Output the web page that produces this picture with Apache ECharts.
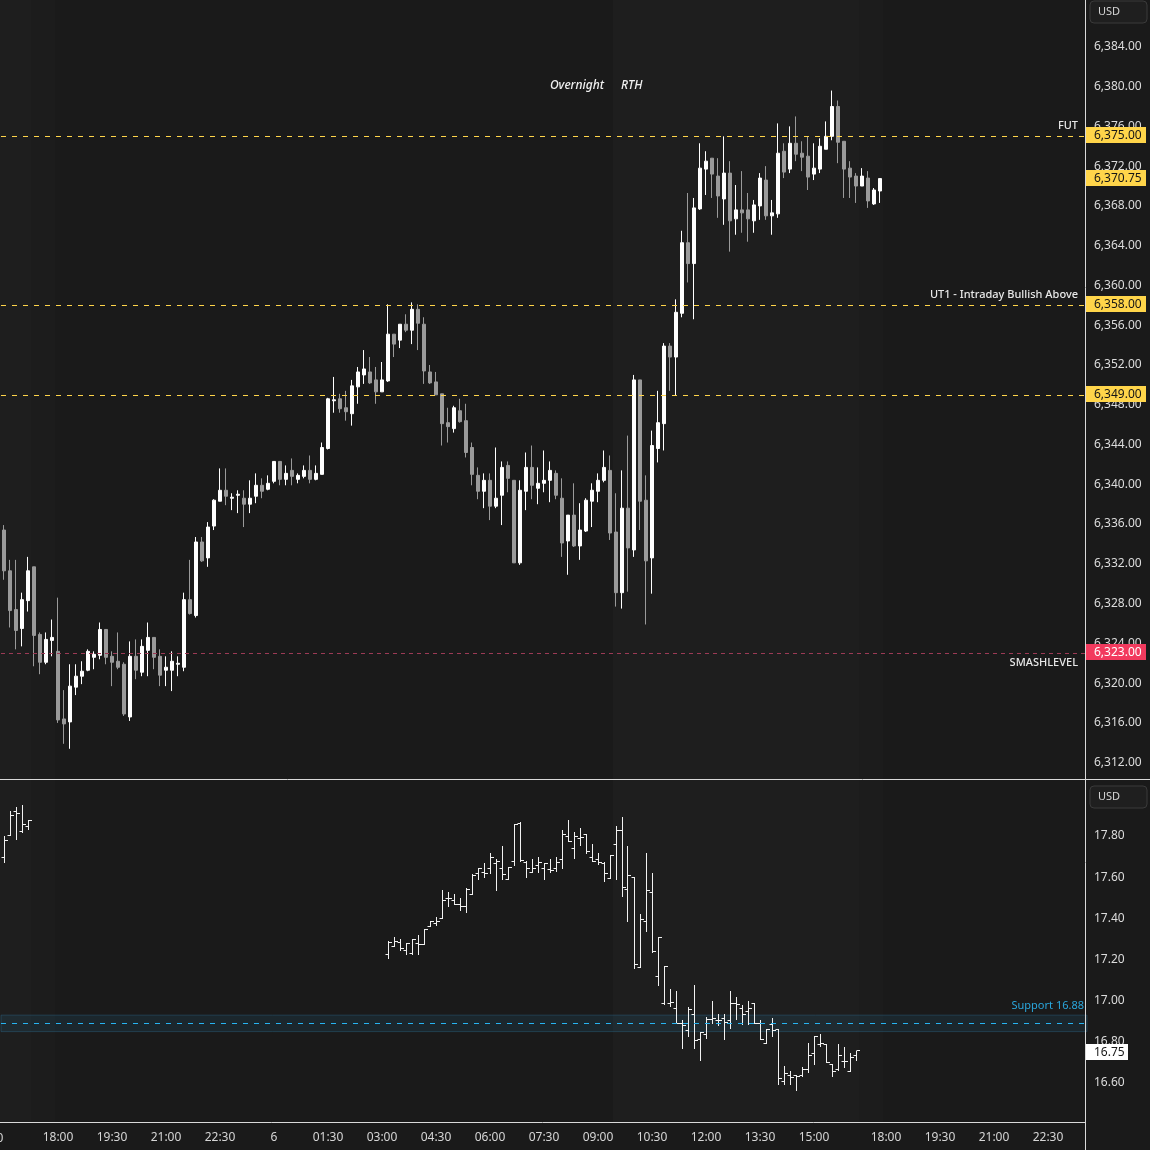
<!DOCTYPE html>
<html><head><meta charset="utf-8">
<script src="https://cdn.jsdelivr.net/npm/echarts@6/dist/echarts.min.js"></script>
<style>html,body{margin:0;padding:0;background:#1a1a1a;}#c{width:1150px;height:1150px;}</style>
</head><body><div id="c"></div>
<script>
// ---------- DATA ----------
// ES 10-minute candles, slot index 0 = 15:30 previous day
const esOpen=[6335.4,6331.3,6327.4,6325.5,6328.3,6331.7,6324.9,6322.1,6324.3,6323.2,6316.4,6316.1,6319.6,6320.7,6321.3,6322.6,6322.8,6325.4,6322.7,6322.2,6321.9,6316.6,6322.7,6321.1,6323.3,6324.6,6322.7,6321.3,6321.3,6321.9,6321.6,6328.4,6326.8,6334.2,6332.6,6335.8,6338.3,6339.4,6338.6,6338.9,6338.6,6338.0,6338.8,6339.9,6339.5,6340.3,6342.3,6340.5,6341.4,6340.5,6340.8,6341.4,6340.5,6341.0,6343.6,6348.4,6348.6,6347.7,6347.1,6349.8,6351.0,6351.3,6350.5,6349.3,6350.4,6355.1,6354.5,6356.1,6355.5,6357.6,6356.1,6351.3,6350.3,6349.1,6346.2,6345.6,6347.4,6346.4,6343.7,6340.9,6339.3,6340.4,6337.8,6338.9,6341.9,6340.4,6332.1,6339.3,6341.7,6339.6,6340.1,6340.4,6341.1,6338.6,6334.3,6336.9,6333.8,6335.3,6338.3,6339.3,6340.4,6341.4,6335.2,6329.1,6337.6,6333.4,6350.5,6338.4,6332.6,6343.6,6346.1,6353.9,6352.8,6357.2,6364.3,6362.2,6367.7,6371.7,6372.8,6371.0,6368.7,6371.3,6366.7,6367.6,6367.6,6366.5,6368.0,6370.6,6367.0,6367.2,6373.5,6371.7,6374.3,6373.3,6373.0,6371.2,6371.7,6373.7,6375.0,6378.0,6374.5,6371.8,6371.0,6370.0,6370.8,6368.2,6369.5];
const esClose=[6331.3,6327.3,6325.3,6328.4,6331.3,6324.8,6322.1,6324.4,6324.6,6316.3,6315.9,6319.7,6320.7,6321.2,6323.2,6322.9,6325.4,6322.6,6322.1,6321.6,6316.9,6322.7,6321.3,6323.7,6324.6,6322.6,6320.8,6321.6,6322.2,6322.0,6328.4,6327.0,6334.2,6332.3,6335.7,6338.4,6339.4,6338.8,6338.7,6339.0,6338.0,6338.6,6339.9,6339.3,6340.1,6342.3,6340.5,6341.1,6340.8,6340.9,6341.4,6340.5,6341.1,6343.7,6348.6,6348.5,6347.6,6347.3,6349.9,6351.3,6351.6,6350.2,6349.3,6350.5,6355.1,6354.1,6356.1,6355.5,6357.6,6356.2,6351.4,6350.2,6349.0,6346.1,6345.8,6347.7,6346.3,6343.2,6341.0,6339.3,6340.4,6337.8,6338.6,6341.7,6340.6,6332.1,6339.4,6341.7,6339.9,6340.1,6340.4,6341.4,6338.9,6334.1,6336.9,6333.8,6335.4,6338.4,6339.4,6340.4,6341.7,6335.1,6329.1,6337.6,6333.6,6350.5,6338.3,6332.3,6343.9,6346.2,6353.9,6352.8,6357.3,6364.3,6362.2,6367.8,6371.8,6372.5,6371.2,6369.0,6371.3,6366.5,6367.6,6367.3,6366.7,6368.1,6370.8,6367.0,6367.3,6373.3,6371.4,6374.3,6373.2,6372.9,6370.9,6371.8,6374.0,6375.0,6378.0,6374.4,6371.7,6370.9,6370.0,6371.0,6368.5,6369.6,6370.75];
const esLow=[6330.4,6325.6,6323.4,6323.7,6327.2,6321.7,6320.9,6321.9,6322.7,6316.0,6313.9,6313.4,6318.8,6319.9,6321.2,6321.4,6322.4,6321.9,6319.7,6321.4,6316.7,6316.2,6320.4,6320.7,6320.7,6321.4,6319.7,6319.7,6319.2,6320.7,6321.2,6326.9,6326.6,6332.2,6331.7,6335.4,6338.3,6337.9,6337.4,6337.1,6335.7,6337.1,6338.1,6338.6,6339.4,6340.1,6339.9,6339.9,6339.9,6340.1,6340.6,6340.1,6340.4,6341.0,6343.5,6347.2,6347.2,6346.4,6345.9,6348.1,6350.1,6350.1,6348.1,6349.3,6350.3,6352.8,6353.7,6355.3,6354.1,6353.5,6350.1,6350.1,6349.0,6343.9,6344.2,6345.2,6346.2,6342.7,6339.9,6338.5,6337.6,6336.4,6337.6,6335.9,6339.2,6332.1,6331.9,6337.4,6338.5,6338.0,6339.2,6338.2,6338.5,6332.7,6330.9,6333.7,6332.4,6335.2,6335.7,6338.2,6340.2,6334.4,6327.7,6327.5,6329.2,6332.7,6335.4,6325.9,6329.0,6342.2,6343.4,6349.4,6348.9,6356.8,6360.3,6356.6,6367.6,6369.1,6368.8,6366.8,6366.1,6363.4,6365.1,6365.3,6364.4,6365.3,6366.6,6366.6,6365.1,6366.8,6370.8,6371.3,6372.5,6371.5,6369.6,6370.6,6371.3,6373.7,6374.6,6372.3,6368.8,6368.8,6368.3,6370.0,6367.8,6368.1,6368.3];
const esHigh=[6335.9,6332.4,6332.4,6329.1,6332.7,6331.7,6325.1,6325.1,6326.4,6328.6,6319.3,6321.9,6321.9,6322.2,6323.4,6323.2,6326.1,6325.4,6323.2,6325.1,6322.1,6324.2,6324.4,6324.4,6326.1,6324.6,6323.4,6322.7,6323.2,6322.7,6329.1,6332.4,6334.7,6334.7,6336.2,6338.5,6341.6,6341.6,6339.1,6339.4,6339.4,6340.4,6341.1,6340.6,6340.9,6342.3,6342.3,6341.9,6342.6,6341.1,6341.9,6342.9,6341.9,6344.2,6348.7,6350.8,6349.1,6349.4,6350.5,6351.8,6353.5,6352.8,6351.8,6352.3,6358.1,6355.1,6356.1,6357.1,6358.3,6358.1,6356.8,6352.0,6351.3,6349.1,6347.7,6347.9,6348.6,6348.1,6344.2,6341.7,6341.1,6341.1,6343.7,6342.3,6342.3,6340.4,6340.4,6343.2,6343.9,6341.7,6343.4,6342.3,6341.4,6340.6,6336.9,6340.1,6338.1,6338.6,6340.1,6341.1,6343.4,6342.9,6339.1,6341.4,6344.9,6351.0,6350.5,6340.9,6345.4,6349.4,6354.2,6354.2,6358.6,6365.5,6369.3,6368.8,6374.3,6373.5,6372.8,6372.8,6375.0,6372.5,6370.1,6371.5,6369.3,6368.6,6371.3,6372.0,6368.6,6376.3,6374.3,6376.0,6377.0,6374.5,6375.0,6374.3,6374.8,6376.5,6379.6,6378.6,6374.5,6372.5,6371.3,6371.8,6371.5,6369.8,6370.75];

// VIX-style OHLC bars (lower pane)
const vixPrevStart=0;
const vixPrevOpen=[17.686,17.794,17.912,17.815,17.839];
const vixPrevHigh=[17.790,17.912,17.930,17.941,17.868];
const vixPrevLow=[17.662,17.794,17.774,17.811,17.823];
const vixPrevClose=[17.769,17.892,17.902,17.850,17.868];
const vixStart=64;
const vixOpen=[17.217,17.257,17.274,17.238,17.220,17.269,17.264,17.352,17.366,17.392,17.489,17.479,17.460,17.450,17.510,17.609,17.613,17.637,17.659,17.636,17.583,17.669,17.855,17.666,17.613,17.647,17.637,17.629,17.637,17.677,17.790,17.730,17.781,17.800,17.686,17.677,17.660,17.584,17.751,17.819,17.535,17.591,17.153,17.377,17.518,17.110,16.977,16.977,16.957,16.884,16.849,16.924,16.805,16.826,16.899,16.897,16.904,16.894,16.979,16.957,16.938,16.977,16.884,16.785,16.875,16.853,16.601,16.628,16.628,16.628,16.657,16.734,16.778,16.778,16.684,16.657,16.695,16.651,16.724];
const vixHigh=[17.280,17.300,17.290,17.272,17.290,17.309,17.336,17.377,17.397,17.528,17.518,17.508,17.489,17.538,17.606,17.636,17.659,17.706,17.679,17.742,17.641,17.850,17.858,17.670,17.677,17.686,17.657,17.677,17.686,17.819,17.868,17.808,17.828,17.800,17.751,17.706,17.666,17.696,17.839,17.883,17.742,17.591,17.411,17.708,17.611,17.298,17.159,17.047,17.036,16.894,16.958,17.066,16.836,16.913,16.987,16.924,16.924,17.036,17.006,16.967,16.987,16.977,16.894,16.853,16.904,16.853,16.674,16.649,16.628,16.668,16.787,16.819,16.827,16.778,16.684,16.778,16.764,16.734,16.744];
const vixLow=[17.199,17.256,17.238,17.218,17.218,17.218,17.264,17.352,17.359,17.392,17.452,17.460,17.432,17.422,17.510,17.583,17.593,17.612,17.529,17.583,17.583,17.650,17.671,17.593,17.613,17.613,17.583,17.613,17.618,17.633,17.765,17.682,17.745,17.706,17.671,17.652,17.572,17.584,17.583,17.500,17.379,17.151,17.153,17.330,17.228,17.066,16.973,16.966,16.883,16.759,16.820,16.759,16.700,16.811,16.883,16.870,16.802,16.859,16.899,16.877,16.877,16.880,16.802,16.783,16.821,16.587,16.587,16.587,16.558,16.623,16.642,16.681,16.768,16.690,16.623,16.653,16.669,16.651,16.700];
const vixClose=[17.277,17.279,17.247,17.270,17.290,17.265,17.336,17.375,17.375,17.479,17.487,17.460,17.450,17.535,17.601,17.636,17.611,17.688,17.669,17.607,17.641,17.848,17.674,17.637,17.637,17.666,17.657,17.627,17.666,17.800,17.768,17.790,17.787,17.715,17.671,17.666,17.609,17.696,17.819,17.544,17.600,17.166,17.387,17.528,17.233,17.298,17.159,16.986,16.883,16.870,16.948,16.799,16.836,16.899,16.904,16.894,16.888,16.979,16.976,16.924,16.957,16.880,16.802,16.853,16.846,16.617,16.637,16.618,16.626,16.657,16.724,16.819,16.787,16.690,16.647,16.724,16.695,16.716,16.750];

// axis ticks
const slotCount=181;
const xTickIndex=[9,18,27,36,45,54,63,72,81,90,99,108,117,126,135,147,156,165,174];
const xTickLabel=['18:00','19:30','21:00','22:30','6','01:30','03:00','04:30','06:00','07:30','09:00','10:30','12:00','13:30','15:00','18:00','19:30','21:00','22:30'];
const xOffLabel={index:-3,label:'15:00'};
const priceTicks=[6312,6316,6320,6324,6328,6332,6336,6340,6344,6348,6352,6356,6360,6364,6368,6372,6376,6380,6384];
const vixTicks=[16.6,16.8,17.0,17.2,17.4,17.6,17.8];
const priceRange=[6310.36,6388.71];
const vixRange=[16.401,18.062];

// levels
const levelValues=[6375,6358,6349];
const levelNames=['FUT','UT1 - Intraday Bullish Above',''];
const smashValue=6323, smashName='SMASHLEVEL';
const lastPrice=6370.75;
const supportValue=16.88, supportName='Support 16.88', supportBand=[16.84,16.92];
const vixLast=16.75;
const rthShade=[[-99,4],[102,142]];
const postShade=[[5,8],[143,146]];

// ---------- CHART ----------
const FONT='"Noto Sans","DejaVu Sans",sans-serif';
const YELLOW='#ffd54a', PINK='#f23a5e', CYAN='#27b4f2';
const cats=[]; for(let i=0;i<slotCount;i++) cats.push('s'+i);
const candleData=esOpen.map((o,i)=>[o,esClose[i],esLow[i],esHigh[i]]);
const ohlc=[];
vixPrevOpen.forEach((o,k)=>ohlc.push([vixPrevStart+k,o,vixPrevHigh[k],vixPrevLow[k],vixPrevClose[k]]));
vixOpen.forEach((o,k)=>ohlc.push([vixStart+k,o,vixHigh[k],vixLow[k],vixClose[k]]));
const fmtP=v=>Number(v).toLocaleString('en-US',{minimumFractionDigits:2,maximumFractionDigits:2});
const richLbl=(pad)=>({a:{color:'#dcdcdc',fontSize:12,fontFamily:FONT,padding:[pad,0,0,0]}});

function renderOHLC(params,api){
  const idx=api.value(0);
  const pO=api.coord([idx,api.value(1)]);
  const pH=api.coord([idx,api.value(2)]);
  const pL=api.coord([idx,api.value(3)]);
  const pC=api.coord([idx,api.value(4)]);
  const x=Math.floor(pO[0])+0.5;
  const st={stroke:'#f2f2f2',lineWidth:1};
  const yO=Math.round(pO[1])+0.5, yC=Math.round(pC[1])+0.5;
  return {type:'group',children:[
    {type:'line',shape:{x1:x,y1:Math.round(pH[1]),x2:x,y2:Math.round(pL[1])+1},style:st},
    {type:'line',shape:{x1:x-3,y1:yO,x2:x,y2:yO},style:st},
    {type:'line',shape:{x1:x,y1:yC,x2:x+3.5,y2:yC},style:st}
  ]};
}

const chart=echarts.init(document.getElementById('c'),null,{renderer:'canvas'});
chart.setOption({
  backgroundColor:'#1a1a1a',animation:false,
  grid:[{left:1,top:0,width:1086,height:779},{left:1,top:780,width:1086,height:342}],
  xAxis:[
    {type:'category',gridIndex:0,data:cats,boundaryGap:true,show:false},
    {type:'category',gridIndex:1,data:cats,boundaryGap:true,axisLine:{show:false},axisTick:{show:false},splitLine:{show:false},
     axisLabel:{interval:(i)=>xTickIndex.indexOf(i)>=0,formatter:(v,i)=>{const k=xTickIndex.indexOf(i);return k>=0?xTickLabel[k]:'';},color:'#d6d6d6',fontSize:12,fontFamily:FONT,margin:10}}
  ],
  yAxis:[
    {type:'value',gridIndex:0,position:'right',min:priceRange[0],max:priceRange[1],axisLine:{show:false},axisTick:{show:false},splitLine:{show:false},
     axisLabel:{customValues:priceTicks,formatter:v=>'{a|'+fmtP(v)+'}',rich:richLbl(0),margin:7}},
    {type:'value',gridIndex:1,position:'right',min:vixRange[0],max:vixRange[1],axisLine:{show:false},axisTick:{show:false},splitLine:{show:false},
     axisLabel:{customValues:vixTicks,formatter:v=>'{a|'+Number(v).toFixed(2)+'}',rich:richLbl(4),margin:7}}
  ],
  series:[
    {type:'candlestick',xAxisIndex:0,yAxisIndex:0,data:candleData,barWidth:4,
     itemStyle:{color:'#ffffff',color0:'#9a9a9a',borderColor:'#ffffff',borderColor0:'#9a9a9a',borderWidth:1},
     markLine:{silent:true,symbol:['none','none'],label:{show:false},
       data:levelValues.map(v=>({yAxis:v,lineStyle:{color:YELLOW,type:[5,6],width:1}})).concat([
         {yAxis:smashValue,lineStyle:{color:'#9c3a55',type:[4,4],width:1}}])}
    },
    {type:'custom',xAxisIndex:1,yAxisIndex:1,data:ohlc,renderItem:renderOHLC,encode:{x:0,y:[1,2,3,4]},
     markLine:{silent:true,symbol:['none','none'],label:{show:false},data:[{yAxis:supportValue,lineStyle:{color:CYAN,type:[5,6],width:1}}]},
     markArea:{silent:true,itemStyle:{color:'rgba(40,110,150,0.16)',borderColor:'rgba(50,120,160,0.35)',borderWidth:1},data:[[{yAxis:supportBand[0]},{yAxis:supportBand[1]}]]}
    }
  ]
});

// ---------- OVERLAYS (positions from the chart's own scales) ----------
const X=i=>chart.convertToPixel({xAxisIndex:1},i);
const Y0=v=>chart.convertToPixel({yAxisIndex:0},v);
const Y1=v=>chart.convertToPixel({yAxisIndex:1},v);
const band=X(1)-X(0);
const els=[];
function shade(ranges,color){
  ranges.forEach(r=>{
    const x1=r[0]<0?0:X(r[0])-band/2, x2=X(r[1])+band/2;
    els.push({type:'rect',z:-10,silent:true,shape:{x:x1,y:0,width:x2-x1,height:1122},style:{fill:color}});
  });
}
shade(rthShade,'#1e1e1e');
shade(postShade,'#1c1c1c');
const lineSt={stroke:'#d9d9d9',lineWidth:1};
els.push({type:'line',z:50,shape:{x1:1085.5,y1:0,x2:1085.5,y2:1150},style:lineSt});
els.push({type:'line',z:50,shape:{x1:0,y1:779.5,x2:1150,y2:779.5},style:lineSt});
els.push({type:'line',z:50,shape:{x1:0,y1:1122.5,x2:1085,y2:1122.5},style:lineSt});
const sessX=X(rthShade[1][0])-band/2;
els.push({type:'text',z:60,style:{x:sessX-9,y:86,text:'Overnight',align:'right',verticalAlign:'middle',fill:'#f0f0f0',font:'italic 500 12px '+FONT}});
els.push({type:'text',z:60,style:{x:sessX+8,y:86,text:'RTH',align:'left',verticalAlign:'middle',fill:'#f0f0f0',font:'italic 500 12px '+FONT}});
els.push({type:'text',z:60,style:{x:X(0)+xOffLabel.index*band+2,y:1139,text:xOffLabel.label,align:'center',verticalAlign:'middle',fill:'#d6d6d6',font:'12px '+FONT}});
levelValues.forEach((v,k)=>{ if(levelNames[k]) els.push({type:'text',z:60,style:{x:1078,y:Y0(v)-10,text:levelNames[k],align:'right',verticalAlign:'middle',fill:'#e8e8e8',font:'500 11px '+FONT}}); });
els.push({type:'text',z:60,style:{x:1078,y:Y0(smashValue)+10,text:smashName,align:'right',verticalAlign:'middle',fill:'#e8e8e8',font:'500 11px '+FONT}});
els.push({type:'text',z:60,style:{x:1084,y:Y1(supportValue)-18,text:supportName,align:'right',verticalAlign:'middle',fill:'#2aa6dc',font:'11px '+FONT}});
function box(y,text,bg,fg,w){
  const cy=Math.round(y)-1;
  els.push({type:'rect',z:70,shape:{x:1086,y:cy-8,width:w,height:16},style:{fill:bg}});
  els.push({type:'text',z:71,style:{x:1094,y:cy+1,text:text,align:'left',verticalAlign:'middle',fill:fg,font:'12px '+FONT}});
}
levelValues.forEach(v=>box(Y0(v),fmtP(v),YELLOW,'#161616',60));
box(Y0(lastPrice),fmtP(lastPrice),YELLOW,'#161616',60);
box(Y0(smashValue),fmtP(smashValue),PINK,'#ffffff',60);
box(Y1(vixLast)+3,vixLast.toFixed(2),'#ffffff','#161616',42);
[[1,'USD'],[786,'USD']].forEach(([y,t])=>{
  els.push({type:'rect',z:70,shape:{x:1090,y:y,width:57,height:22,r:4},style:{fill:'#1f1f1f',stroke:'#3a3a3a',lineWidth:1}});
  els.push({type:'text',z:71,style:{x:1098,y:y+11,text:t,align:'left',verticalAlign:'middle',fill:'#d6d6d6',font:'11px '+FONT}});
});
chart.setOption({graphic:{elements:els}});
</script></body></html>
